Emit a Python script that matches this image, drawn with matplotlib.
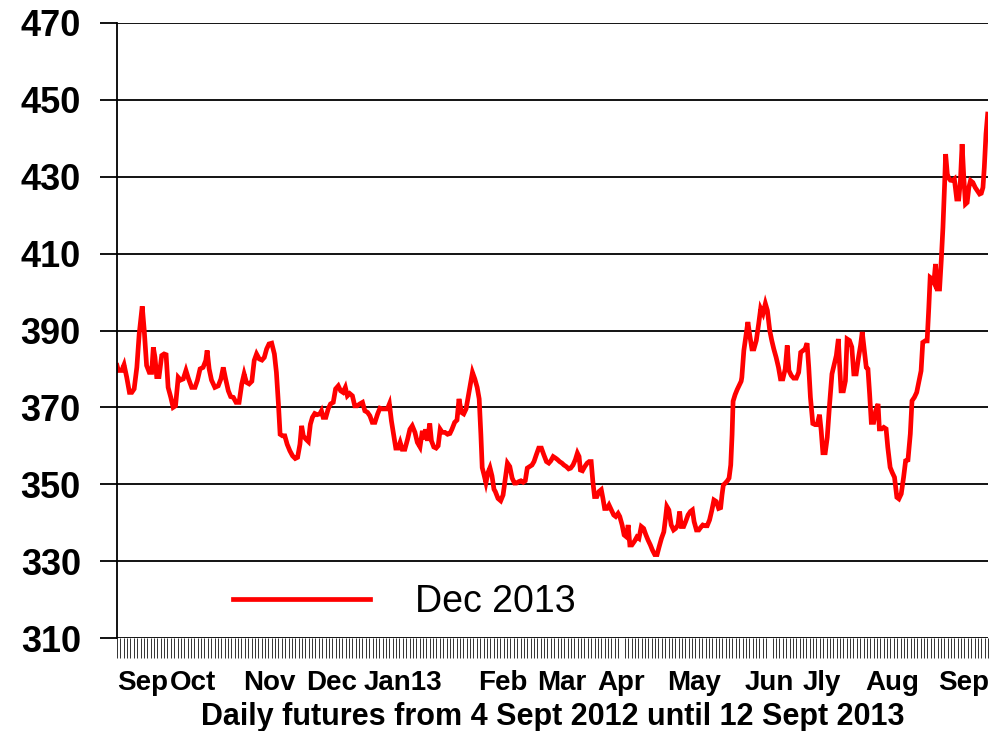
import numpy as np
import matplotlib
matplotlib.use("Agg")
import matplotlib.pyplot as plt

# Dec 2013 futures (x = trading day since 4 Sept 2012)
days_sep_oct = [0, 0.4, 1.4, 2.1, 2.9, 3.7, 4.4, 5.1, 5.9, 6.6, 7.5, 8.1, 8.8, 9.6, 10.3, 10.8,
                11.3, 11.8, 12.5, 13.3, 14.0, 14.6, 15.2, 16.0, 16.7, 17.4, 18.2, 18.9, 19.7,
                20.5, 21.2, 22.2, 23.2, 23.9, 24.7, 25.6, 26.4, 26.8, 27.4, 28.1, 29.1, 30.1,
                30.9, 31.6, 32.3, 33.1, 33.8, 34.6, 35.4, 36.3, 37.1]
price_sep_oct = [380.9, 379.6, 379.6, 381.1, 377.8, 373.9, 373.9, 374.8, 380.4, 389.1, 396.3,
                 390.0, 380.9, 379.1, 379.1, 385.6, 383.0, 378.0, 378.0, 383.5, 383.9, 383.7,
                 375.2, 372.6, 370.0, 370.4, 377.8, 377.1, 377.4, 379.6, 377.6, 375.2, 375.2,
                 377.0, 380.0, 380.4, 382.2, 384.8, 380.0, 377.1, 375.2, 375.6, 377.4, 380.4,
                 377.4, 374.3, 372.8, 372.6, 371.3, 371.3, 376.1]

days_nov_dec = [37.8, 38.5, 39.3, 40.1, 40.8, 41.5, 42.3, 43.1, 43.8, 44.5, 45.2, 46.0, 46.8,
                47.4, 48.0, 48.5, 49.2, 49.9, 50.6, 51.4, 52.2, 53.0, 53.7, 54.4, 54.9, 55.4,
                56.2, 56.9, 57.5, 58.1, 58.8, 59.5, 60.3, 60.8, 61.3, 62.1, 62.8, 63.5, 64.3,
                65.0, 65.8, 66.5, 67.2, 67.9, 68.5, 69.2, 70.0, 70.7, 71.4, 72.2, 73.0, 73.7,
                74.5, 75.2]
price_nov_dec = [378.7, 376.5, 376.1, 376.8, 382.2, 383.9, 382.6, 382.3, 383.0, 385.2, 386.5,
                 386.7, 383.9, 379.1, 370.9, 363.0, 362.6, 362.6, 360.4, 358.7, 357.4, 356.7,
                 357.0, 360.4, 365.2, 362.6, 361.7, 361.1, 365.6, 367.4, 368.4, 368.1, 368.3,
                 369.1, 367.4, 367.4, 369.6, 370.9, 371.3, 374.8, 375.6, 374.3, 373.9, 375.2,
                 373.0, 373.6, 373.0, 370.4, 370.4, 370.9, 371.3, 369.1, 368.7, 367.8]

days_jan = [75.9, 76.7, 77.5, 78.2, 78.9, 79.6, 80.4, 81.0, 81.6, 82.3, 82.9, 83.6, 84.2, 84.8,
            85.6, 86.4, 87.1, 87.8, 88.6, 89.3, 90.1, 90.8, 91.3, 91.8, 92.3, 93.0, 93.5, 94.2,
            94.9, 95.5, 96.1, 96.7, 97.5, 98.3, 99.0, 99.6, 100.4, 101.1, 101.7, 102.4, 103.1,
            103.8, 104.4, 105.1, 105.7, 106.4, 107.1, 107.7, 108.2, 108.6, 109.1, 109.7, 110.3,
            110.9, 111.5, 112.1]
price_jan = [366.1, 366.1, 368.3, 369.8, 369.6, 369.6, 369.6, 370.9, 366.5, 362.6, 359.4,
             359.4, 360.9, 359.1, 359.1, 361.7, 364.3, 365.2, 363.5, 360.9, 359.7, 363.9,
             361.7, 364.3, 361.3, 365.8, 361.3, 359.7, 359.4, 360.0, 364.3, 363.5, 363.5,
             363.0, 363.2, 364.3, 366.1, 366.7, 372.2, 368.7, 368.3, 369.6, 372.6, 376.1,
             379.1, 377.4, 375.2, 372.2, 363.0, 354.3, 352.6, 350.4, 353.0, 354.3, 352.2, 348.7]

days_feb_mar = [112.5, 113.3, 114.1, 114.8, 115.5, 116.1, 116.8, 117.5, 118.2, 118.8, 119.5,
                120.1, 120.8, 121.4, 122.0, 122.7, 123.4, 124.0, 124.7, 125.4, 126.2, 126.9,
                127.7, 128.4, 129.0, 129.7, 130.4, 131.0, 131.6, 132.3, 132.9, 133.6, 134.3,
                134.9, 135.6, 136.3, 136.9, 137.4, 137.8, 138.4, 139.1, 139.8, 140.4, 141.0,
                141.5, 142.0, 142.7, 143.3, 144.0, 144.5, 145.0, 145.7, 146.3, 147.0, 147.7,
                148.3, 149.0, 149.5]
price_feb_mar = [348.1, 346.3, 345.7, 347.2, 351.6, 355.5, 354.6, 351.6, 350.3, 350.3, 350.7,
                 350.9, 350.5, 350.9, 354.2, 354.6, 355.0, 355.9, 357.7, 359.4, 359.4, 357.7,
                 355.9, 355.5, 356.1, 357.2, 356.8, 356.4, 355.9, 355.5, 355.0, 354.6, 354.0,
                 354.2, 355.0, 356.4, 358.1, 357.2, 353.7, 353.5, 354.6, 355.5, 355.9, 355.9,
                 350.7, 346.8, 346.8, 348.1, 348.6, 346.3, 343.7, 343.7, 344.6, 343.3, 342.0,
                 341.6, 342.4, 341.6]

days_apr_may = [150.2, 150.8, 151.5, 152.0, 152.5, 153.1, 153.9, 154.6, 155.2, 155.9, 156.6,
                157.2, 157.9, 158.6, 159.2, 159.9, 160.6, 161.2, 161.9, 162.6, 163.1, 163.5,
                164.1, 164.8, 165.5, 166.1, 166.8, 167.3, 167.8, 168.5, 169.1, 169.8, 170.5,
                171.1, 171.6, 172.3, 173.0, 173.5, 174.2, 174.9, 175.5, 176.2, 176.9, 177.5,
                178.2, 178.9, 179.5, 179.9, 180.3, 180.9, 181.5, 182.0, 182.5, 182.9, 183.2,
                183.8, 184.4, 185.1, 185.6]
price_apr_may = [339.4, 336.8, 336.3, 339.4, 334.2, 334.2, 335.2, 336.3, 335.9, 339.0, 338.5,
                 337.0, 335.5, 334.2, 332.9, 331.7, 331.7, 333.7, 335.9, 337.6, 341.1, 344.2,
                 343.3, 339.4, 338.1, 338.5, 339.4, 342.9, 339.0, 339.0, 340.3, 342.0, 342.9,
                 343.3, 340.3, 338.1, 338.1, 338.7, 339.4, 339.2, 339.2, 340.7, 343.3, 345.9,
                 345.5, 343.7, 343.9, 347.2, 349.8, 350.3, 350.9, 351.6, 355.0, 362.9, 371.6,
                 373.3, 374.6, 375.9, 376.8]

days_jun_jly = [185.8, 186.4, 187.1, 187.6, 188.1, 188.8, 189.4, 190.1, 190.8, 191.4, 192.1,
                192.8, 193.4, 194.1, 194.7, 195.3, 196.0, 196.7, 197.3, 198.0, 198.7, 199.3,
                199.8, 200.5, 201.2, 202.0, 202.7, 203.3, 204.0, 204.6, 205.2, 205.7, 206.2,
                206.9, 207.6, 208.2, 208.9, 209.4, 209.9, 210.6, 211.2, 211.9, 212.6, 213.2,
                213.9, 214.5, 214.8, 215.3, 216.0, 216.6, 217.1, 217.8, 218.5, 219.1, 219.8,
                220.5, 221.1, 221.6]
price_jun_jly = [377.8, 384.8, 389.1, 392.2, 389.1, 385.2, 385.2, 387.4, 391.7, 395.7, 394.4,
                 397.0, 395.2, 390.0, 387.4, 385.2, 383.0, 380.4, 377.4, 377.4, 380.0, 386.1,
                 379.6, 378.3, 377.6, 377.6, 379.1, 384.3, 384.8, 385.2, 386.7, 380.4, 372.6,
                 365.8, 365.5, 365.5, 368.1, 363.9, 358.2, 358.2, 362.2, 370.9, 378.7, 380.9,
                 383.5, 387.8, 382.2, 374.3, 374.3, 376.9, 387.8, 387.4, 385.7, 378.7, 378.7,
                 383.0, 386.1, 389.6]

days_aug_sep = [222.8, 223.3, 223.8, 224.3, 225.0, 225.6, 226.3, 226.7, 227.4, 228.0, 228.7,
                229.2, 229.9, 230.5, 231.2, 231.9, 232.5, 233.2, 233.9, 234.5, 235.2, 235.9,
                236.4, 237.1, 237.8, 238.4, 239.1, 239.6, 240.3, 240.9, 241.4, 241.8, 242.4,
                242.9, 243.4, 243.9, 244.6, 245.1, 245.6, 246.1, 246.4, 246.9, 247.3, 247.8,
                248.5, 249.0, 249.7, 250.3, 250.8, 251.3, 251.8, 252.3, 252.8, 253.3, 253.8,
                254.5, 255.2, 255.8, 256.5, 257.0, 257.5, 257.9, 258.4, 258.9]
price_aug_sep = [380.4, 380.0, 373.5, 366.1, 366.1, 369.1, 370.9, 364.4, 364.4, 364.8, 364.4,
                 359.6, 354.4, 353.1, 351.8, 346.6, 346.2, 347.5, 351.8, 356.1, 356.3, 363.1,
                 371.7, 372.6, 373.9, 376.5, 379.5, 386.9, 387.3, 387.3, 396.0, 403.8, 403.4,
                 402.5, 407.3, 400.8, 400.8, 408.2, 416.8, 428.1, 435.9, 430.7, 429.7, 429.1,
                 429.0, 429.4, 424.2, 424.2, 429.0, 438.5, 429.8, 422.9, 423.3, 427.2, 429.0,
                 428.5, 427.2, 426.4, 425.5, 425.7, 427.2, 432.4, 441.1, 446.3]

month_labels = ["Sep", "Oct", "Nov", "Dec", "Jan13", "Feb", "Mar", "Apr", "May",
                "Jun", "Jly", "Aug", "Sep"]
month_label_days = [7.7, 22.6, 45.2, 63.9, 84.9, 114.6, 132.2, 150.0, 171.7,
                    194.0, 209.5, 230.6, 251.7]
n_days = 259

days = np.concatenate([days_sep_oct, days_nov_dec, days_jan, days_feb_mar,
                       days_apr_may, days_jun_jly, days_aug_sep])
price = np.concatenate([price_sep_oct, price_nov_dec, price_jan, price_feb_mar,
                        price_apr_may, price_jun_jly, price_aug_sep])

plt.rcParams['font.family'] = ['Liberation Sans', 'DejaVu Sans']

fig = plt.figure(figsize=(9.94, 7.31), dpi=100)
ax = fig.add_axes([117 / 994, 1 - 638 / 731, (988 - 117) / 994, (638 - 23) / 731])

ax.plot(days, price, color='#ff0000', lw=3.4, label='Dec 2013', solid_joinstyle='miter')

ax.set_xlim(0, days[-1])
ax.set_ylim(310, 470)
ax.set_yticks(np.arange(310, 471, 20))
ax.yaxis.grid(True, color='black', lw=1.3)
ax.set_axisbelow(True)

for s in ['top', 'right', 'bottom']:
    ax.spines[s].set_visible(False)
ax.spines['left'].set_linewidth(1.3)

ax.tick_params(axis='y', length=12, width=1.3, pad=14, labelsize=26)
for t in ax.get_yticklabels():
    t.set_fontweight('bold')

ax.set_xticks(month_label_days)
ax.set_xticklabels(month_labels, fontsize=20, fontweight='bold')
ax.set_xticks(np.arange(0, n_days + 1), minor=True)
ax.tick_params(axis='x', which='major', length=0, pad=23)
ax.tick_params(axis='x', which='minor', length=14.5, width=0.7, color='#333333')

ax.set_xlabel('Daily futures from 4 Sept 2012 until 12 Sept 2013',
              fontsize=22, fontweight='bold', labelpad=4)

ax.legend(loc='center left', bbox_to_anchor=(0.133, 0.058), frameon=False,
          fontsize=27, handlelength=3.65, handletextpad=1.2,
          borderpad=0, borderaxespad=0)

fig.savefig('out.png', dpi=100)
